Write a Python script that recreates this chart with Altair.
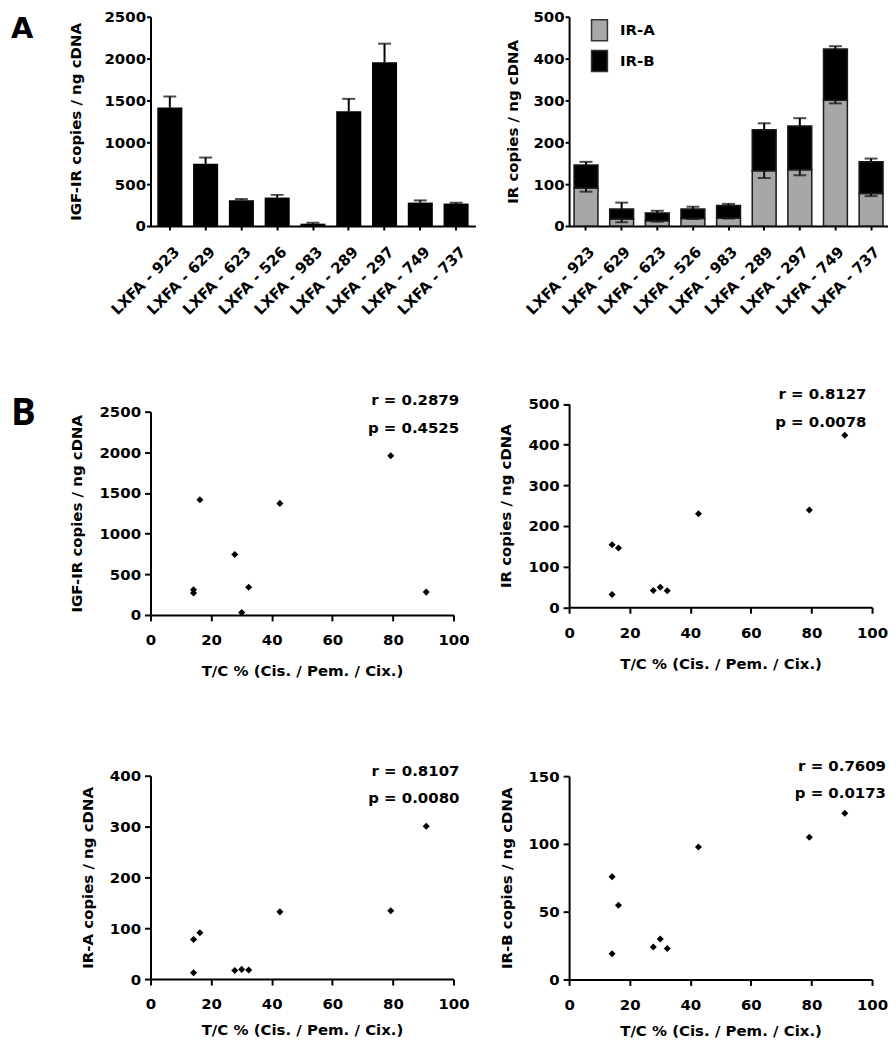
import altair as alt
import pandas as pd

# ---------------- data ----------------
lines = ["LXFA - 923", "LXFA - 629", "LXFA - 623", "LXFA - 526", "LXFA - 983",
         "LXFA - 289", "LXFA - 297", "LXFA - 749", "LXFA - 737"]
igf1r = [1415, 743, 308, 340, 28, 1371, 1957, 280, 268]
igf1r_err = [132, 75, 14, 32, 11, 148, 221, 26, 10]
ira = [91.0, 17.0, 12.4, 17.7, 19.0, 132.2, 134.2, 300.5, 77.9]
ira_err = [9.0, 8.0, 2.0, 1.0, 1.0, 17.5, 13.0, 7.5, 6.5]
irb = [54.8, 23.9, 19.0, 22.9, 29.9, 97.7, 104.9, 122.6, 75.7]
irb_err = [7.5, 15.0, 5.0, 5.5, 4.0, 15.5, 18.5, 6.5, 7.5]
tc = [16.3, 27.8, 14.2, 32.4, 30.1, 42.7, 79.3, 91.0, 14.2]
isoforms = ["IR-A", "IR-B"]
iso_colors = ["#a7a7a9", "#000000"]
x_ticks = [0, 20, 40, 60, 80, 100]
stats = {
    "IGF-IR": ("r = 0.2879", "p = 0.4525"),
    "IR": ("r = 0.8127", "p = 0.0078"),
    "IR-A": ("r = 0.8107", "p = 0.0080"),
    "IR-B": ("r = 0.7609", "p = 0.0173"),
}

FONT = "DejaVu Sans"
TC_TITLE = "T/C % (Cis. / Pem. / Cix.)"
BAR_H = 210
SC_H = 204
SC_W = 304


def band_x(pin, pout, loff):
    return alt.X("line:N", sort=lines, title=None,
                 scale=alt.Scale(paddingInner=pin, paddingOuter=pout),
                 axis=alt.Axis(labelAngle=-45, labelAlign="right", labelBaseline="top",
                               labelPadding=14, labelOffset=loff, tickSize=4))


def label_layer(txt, x, y, size, font, baseline):
    return alt.Chart(pd.DataFrame({"t": [txt]})).mark_text(
        font=font, fontWeight="bold", fontSize=size, align="left",
        baseline=baseline, color="black").encode(text="t:N", x=alt.value(x), y=alt.value(y))


# ---------------- panel A left: IGF-IR bars ----------------
df_igf = pd.DataFrame({"line": lines, "value": igf1r,
                       "upper": [m + e for m, e in zip(igf1r, igf1r_err)]})
xa = band_x(0.3, 0.19, 2)
y_igf_axis = alt.Axis(values=[0, 500, 1000, 1500, 2000, 2500], format="d",
                      title="IGF-IR copies / ng cDNA",
                      tickSize=4, labelPadding=1, titlePadding=20.7)
y_igf_scale = alt.Scale(domain=[0, 2500], nice=False)
bar_l = alt.Chart(df_igf).mark_bar(color="black").encode(
    x=xa, y=alt.Y("value:Q", scale=y_igf_scale, axis=y_igf_axis))
err_l = alt.Chart(df_igf).mark_rule(color="black", strokeWidth=2).encode(
    x=xa, y=alt.Y("value:Q", scale=y_igf_scale, axis=y_igf_axis), y2="upper:Q")
cap_l = alt.Chart(df_igf).mark_tick(color="black", size=13, thickness=2).encode(
    x=xa, y=alt.Y("upper:Q", scale=y_igf_scale, axis=y_igf_axis))
chart_a1 = alt.layer(bar_l, err_l, cap_l,
                     label_layer("A", -140, 21, 29, "DejaVu Sans", "alphabetic")).properties(
    width=326, height=BAR_H)

# ---------------- panel A right: IR-A / IR-B stacked ----------------
df_ir = pd.DataFrame({"line": lines * 2,
                      "isoform": ["IR-A"] * 9 + ["IR-B"] * 9,
                      "value": ira + irb,
                      "ord": [0] * 9 + [1] * 9})
tot = [a + b for a, b in zip(ira, irb)]
df_ire = pd.DataFrame({"line": lines, "a_top": ira,
                       "a_lo": [a - e for a, e in zip(ira, ira_err)],
                       "total": tot,
                       "b_hi": [t + e for t, e in zip(tot, irb_err)]})
xb = band_x(0.33, 0.14, 1)
y_ir_axis = alt.Axis(values=[0, 100, 200, 300, 400, 500], format="d", title="IR copies / ng cDNA",
                     tickSize=4, labelPadding=1, titlePadding=12.9)
y_ir_scale = alt.Scale(domain=[0, 500], nice=False)
bar_r = alt.Chart(df_ir).mark_bar(stroke="#1a1a1a", strokeWidth=1.5).encode(
    x=xb,
    y=alt.Y("value:Q", stack="zero", scale=y_ir_scale, axis=y_ir_axis),
    color=alt.Color("isoform:N", scale=alt.Scale(domain=isoforms, range=iso_colors),
                    legend=alt.Legend(title=None, orient="none", legendX=19, legendY=2,
                                      symbolType="M-0.76,-1H0.76V1H-0.76Z", symbolSize=441,
                                      symbolStrokeColor="#333333", symbolStrokeWidth=1.5,
                                      labelFont=FONT, labelFontSize=15, labelFontWeight="bold",
                                      labelColor="black", labelOffset=9, rowPadding=4,
                                      padding=0, symbolOpacity=1)),
    order=alt.Order("ord:Q", sort="ascending"))
err_a = alt.Chart(df_ire).mark_rule(color="#111111", strokeWidth=2).encode(
    x=xb, y=alt.Y("a_top:Q", scale=y_ir_scale, axis=y_ir_axis), y2="a_lo:Q")
cap_a = alt.Chart(df_ire).mark_tick(color="#111111", size=13, thickness=2).encode(
    x=xb, y=alt.Y("a_lo:Q", scale=y_ir_scale, axis=y_ir_axis))
err_b = alt.Chart(df_ire).mark_rule(color="black", strokeWidth=2).encode(
    x=xb, y=alt.Y("total:Q", scale=y_ir_scale, axis=y_ir_axis), y2="b_hi:Q")
cap_b = alt.Chart(df_ire).mark_tick(color="black", size=13, thickness=2).encode(
    x=xb, y=alt.Y("b_hi:Q", scale=y_ir_scale, axis=y_ir_axis))
chart_a2 = alt.layer(bar_r, err_a, cap_a, err_b, cap_b).properties(width=320, height=BAR_H)


# ---------------- panel B scatters ----------------
def scatter(vals, ymax, ystep, ytitle, key, d, ytp, xtp, tx, ty_r, ty_p, panel=None):
    df = pd.DataFrame({"tc": tc, "v": vals})
    x = alt.X("tc:Q", scale=alt.Scale(domain=[0, 100], nice=False),
              axis=alt.Axis(values=x_ticks, title=TC_TITLE, tickSize=6, labelPadding=12,
                            titlePadding=xtp, labelFlush=False, labelOverlap=False))
    y = alt.Y("v:Q", scale=alt.Scale(domain=[0, ymax], nice=False, range=[SC_H + d, d]),
              axis=alt.Axis(values=list(range(0, ymax + 1, ystep)), format="d", title=ytitle,
                            tickSize=6, labelPadding=4, titlePadding=ytp, labelOverlap=False))
    pts = alt.Chart(df).mark_point(shape="diamond", filled=True, size=50, color="black",
                                   opacity=1).encode(x=x, y=y)
    layers = [pts]
    r_txt, p_txt = stats[key]
    for txt, ty in ((r_txt, ty_r), (p_txt, ty_p)):
        layers.append(alt.Chart(pd.DataFrame({"t": [txt]})).mark_text(
            font=FONT, fontSize=15, fontWeight="bold", align="right", baseline="middle",
            color="black").encode(text="t:N", x=alt.value(tx), y=alt.value(d + ty)))
    if panel:
        layers.append(label_layer(panel, -140, d - 16, 37, "Open Sans", "top"))
    return alt.layer(*layers).properties(width=SC_W, height=SC_H + d)


chart_b1 = scatter(igf1r, 2500, 500, "IGF-IR copies / ng cDNA", "IGF-IR", 24.9, 14.7, 16,
                   309.7, -11.7, 16.3, panel="B")
chart_b2 = scatter(tot, 500, 100, "IR copies / ng cDNA", "IR", 9.5, 14.5, 16,
                   298.4, -10, 17.7)
chart_b3 = scatter(ira, 400, 100, "IR-A copies / ng cDNA", "IR-A", 0, 13.8, 11,
                   310, -4.6, 22.7)
chart_b4 = scatter(irb, 150, 50, "IR-B copies / ng cDNA", "IR-B", 0, 13.9, 11,
                   318, -10.6, 17.4)

left_col = alt.vconcat(chart_a1, chart_b1, chart_b3, spacing=161.3, bounds="flush"
                       ).resolve_scale(color="independent").resolve_legend(color="independent")
right_col = alt.vconcat(chart_a2, chart_b2, chart_b4, spacing=169, bounds="flush"
                        ).resolve_scale(color="independent").resolve_legend(color="independent")

chart = alt.hconcat(left_col, right_col, spacing=23).resolve_scale(
    color="independent").resolve_legend(color="independent").properties(
    padding={"left": 3, "top": 0, "right": 0, "bottom": 0}).configure_axis(
    domainColor="black", domainWidth=2, tickColor="black", tickWidth=2,
    labelColor="black", titleColor="black", labelFont=FONT, titleFont=FONT,
    labelFontWeight="bold", titleFontWeight="bold", labelFontSize=15, titleFontSize=15,
    grid=False
).configure_view(stroke=None)

chart.save("out.html", embed_options={"renderer": "svg", "actions": False})
